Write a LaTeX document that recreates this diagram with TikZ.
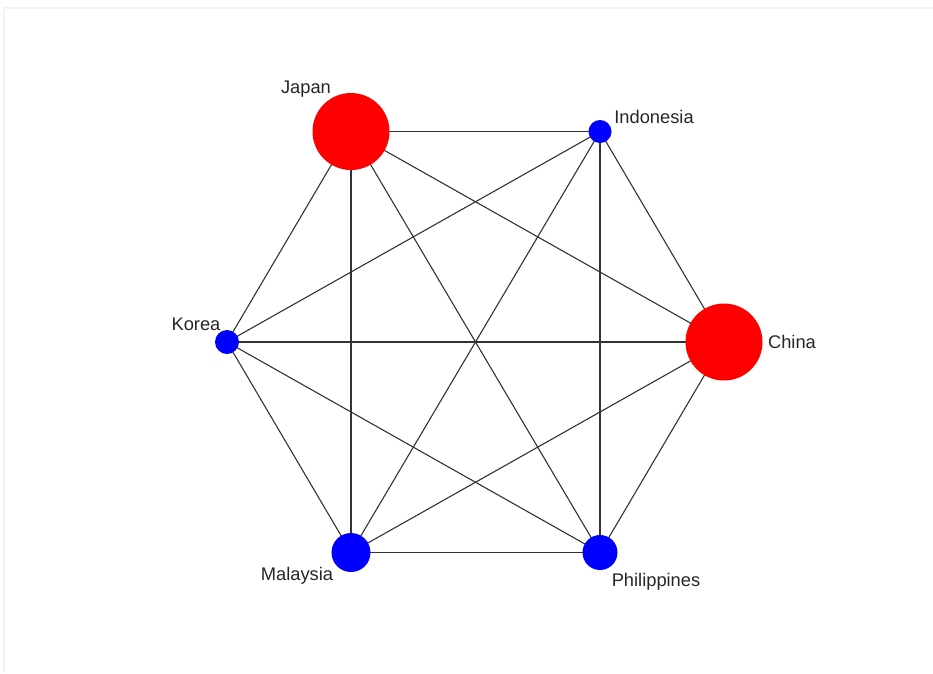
\documentclass[tikz,border=0pt]{standalone}
\usepackage{fontspec}
\setmainfont{Liberation Sans}
\usetikzlibrary{backgrounds}
\definecolor{framegray}{RGB}{240,244,244}
\definecolor{edgegray}{RGB}{51,51,51}
\tikzset{
  vtx/.style={circle, inner sep=0pt, draw=none, minimum size=#1},
  bigv/.style={vtx=77pt, fill=red},
  lab/.style={inner sep=0pt, font=\fontsize{18.3}{20}\selectfont, text=black!85},
  edge/.style={draw=edgegray, line width=1.1pt}
}
\begin{document}
\begin{tikzpicture}[x=1pt,y=-1pt]
\useasboundingbox (0,0) rectangle (933,673);
\draw[framegray, line width=1.2pt] (4,673) -- (4,8) -- (933,8);
\node[bigv] (japan) at (351,131.5) {};
\node[vtx=23pt, fill=blue] (indonesia) at (600,131.5) {};
\node[vtx=24pt, fill=blue] (korea) at (227,342) {};
\node[bigv] (china) at (724,342) {};
\node[vtx=39pt, fill=blue] (malaysia) at (351,552.5) {};
\node[vtx=35pt, fill=blue] (philippines) at (600,552.5) {};
\node[lab] (ljapan) at (306,89) {Japan};
\node[lab] (lindonesia) at (654,117) {Indonesia};
\node[lab] (lkorea) at (196,324) {Korea};
\node[lab] (lchina) at (792,342) {China};
\node[lab] (lmalaysia) at (297,576) {Malaysia};
\node[lab] (lphilippines) at (656,582) {Philippines};
\begin{scope}[on background layer]
\foreach \a/\b in {japan/indonesia, japan/korea, japan/malaysia, japan/philippines, japan/china,
  indonesia/korea, indonesia/malaysia, indonesia/philippines, indonesia/china,
  korea/china, korea/malaysia, korea/philippines,
  china/malaysia, china/philippines, malaysia/philippines}
  \draw[edge] (\a.center) -- (\b.center);
\end{scope}
\end{tikzpicture}
\end{document}
